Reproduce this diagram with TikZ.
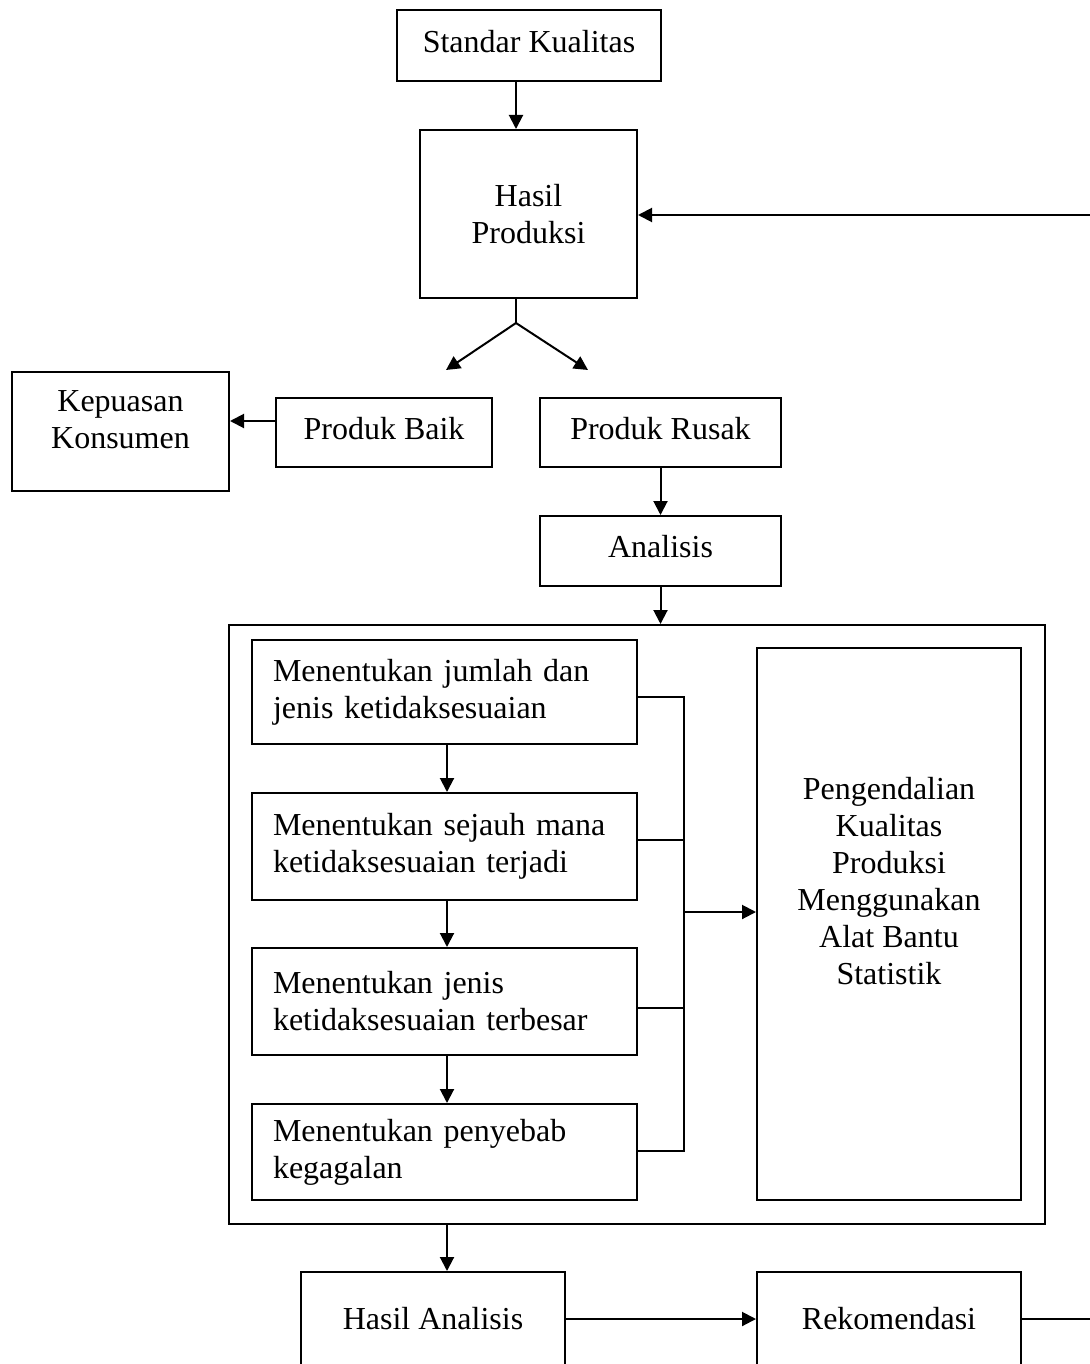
\documentclass[tikz,border=0pt]{standalone}
\usepackage{fontspec}
\setmainfont{Liberation Serif}
\usetikzlibrary{arrows.meta}
\begin{document}
\begin{tikzpicture}[x=0.5pt,y=-0.5pt,
 box/.style={draw,line width=1pt,inner sep=0pt,align=center,font=\fontsize{16}{18.5}\selectfont},
 raised/.style={text depth=4.5pt},
 ibox/.style={draw,line width=1pt,inner ysep=0pt,inner xsep=10.5pt,text width=171.5pt,align=left,font=\fontsize{16}{18.5}\selectfont},
 txt/.style={inner sep=0pt,align=center,font=\fontsize{16}{18.5}\selectfont},
 arr/.style={line width=1pt,-{Triangle[length=7pt,width=7pt]}},
 ln/.style={line width=1pt}]
\clip (0,0) rectangle (1090,1364);
% boxes
\node[box,raised,minimum width=132pt,minimum height=35.5pt] (std) at (529,45.5) {Standar Kualitas};
\node[box,minimum width=108.5pt,minimum height=84pt] (hp) at (528.5,214) {Hasil\\Produksi};
\node[box,minimum width=108.5pt,minimum height=59.5pt] (kep) at (120.5,431.5) {};
\node[txt] (kept) at (120.5,420) {Kepuasan\\Konsumen};
\node[box,raised,minimum width=108pt,minimum height=34.5pt] (pb) at (384,432.5) {Produk Baik};
\node[box,raised,minimum width=120.5pt,minimum height=34.5pt] (pr) at (660.5,432.5) {Produk Rusak};
\node[box,raised,minimum width=120.5pt,minimum height=35pt] (an) at (660.5,551) {Analisis};
\node[box,minimum width=408pt,minimum height=299.5pt] (outer) at (637,924.5) {};
\node[ibox,minimum height=52pt] (b1) at (444.5,692) {Menentukan jumlah dan\\jenis ketidaksesuaian};
\node[ibox,minimum height=53.5pt] (b2) at (444.5,846.5) {Menentukan sejauh mana\\ketidaksesuaian terjadi};
\node[ibox,minimum height=53.5pt] (b3) at (444.5,1001.5) {Menentukan jenis\\ketidaksesuaian terbesar};
\node[ibox,minimum height=48pt] (b4) at (444.5,1152) {Menentukan penyebab\\kegagalan};
\node[box,minimum width=132pt,minimum height=276pt] (rb) at (889,924) {};
\node[txt] (rbt) at (889,881) {Pengendalian\\Kualitas\\Produksi\\Menggunakan\\Alat Bantu\\Statistik};
\node[box,minimum width=132pt,minimum height=47pt] (ha) at (433,1319) {Hasil Analisis};
\node[box,minimum width=132pt,minimum height=47pt] (rek) at (889,1319) {Rekomendasi};
% coordinates
\coordinate (split) at (516,323);
\coordinate (lt) at (446,370);
\coordinate (rt) at (588,370);
\coordinate (edgeTop) at (1090,215);
\coordinate (edgeBot) at (1090,1319);
\coordinate (bus) at (684,912);
% connectors
\draw[arr] (std.south -| 516,0) -- (hp.north -| 516,0);
\draw[ln] (hp.south -| split) -- (split);
\draw[arr] (split) -- (lt);
\draw[arr] (split) -- (rt);
\draw[arr] (pb.west |- 0,421) -- (kep.east |- 0,421);
\draw[arr] (pr.south) -- (an.north);
\draw[arr] (an.south) -- (outer.north -| an.south);
\draw[arr] (b1.south -| 447,0) -- (b2.north -| 447,0);
\draw[arr] (b2.south -| 447,0) -- (b3.north -| 447,0);
\draw[arr] (b3.south -| 447,0) -- (b4.north -| 447,0);
\draw[ln] (b1.east |- 0,697) -- (684,697) -- (684,1151) -- (b4.east |- 0,1151);
\draw[ln] (b2.east |- 0,840) -- (bus |- 0,840);
\draw[ln] (b3.east |- 0,1008) -- (bus |- 0,1008);
\draw[arr] (bus) -- (rb.west |- bus);
\draw[arr] (outer.south -| 447,0) -- (ha.north -| 447,0);
\draw[arr] (ha.east) -- (rek.west);
\draw[ln] (rek.east) -- (edgeBot);
\draw[arr] (edgeTop) -- (hp.east |- edgeTop);
\end{tikzpicture}
\end{document}
